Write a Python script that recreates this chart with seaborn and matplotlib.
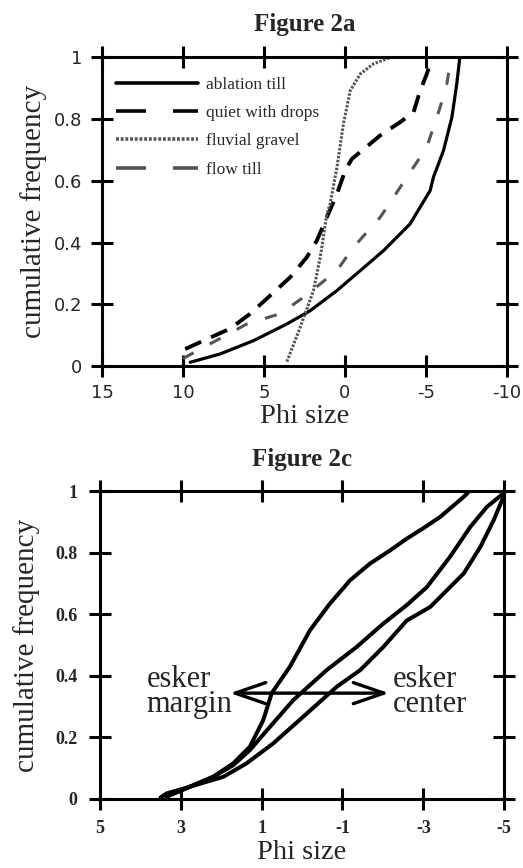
import numpy as np
import pandas as pd
import seaborn as sns
import matplotlib
matplotlib.use("Agg")
import matplotlib.pyplot as plt

# ---- Figure 2a data ----
abl_x = [9.55, 7.70, 5.64, 3.58, 2.14, 0.49, -1.56, -2.38, -4.03, -5.27, -5.47, -6.09, -6.61, -6.91, -7.08, -7.10]
abl_y = [0.013, 0.040, 0.083, 0.137, 0.18, 0.245, 0.337, 0.374, 0.461, 0.569, 0.612, 0.698, 0.806, 0.914, 0.99, 1.0]

quiet_x = [9.86, 8.73, 7.08, 5.85, 4.61, 3.38, 2.35, 1.73, 0.49, -0.02, -0.43, -1.56, -2.18, -3.41, -4.24, -4.65, -5.06, -5.37]
quiet_y = [0.056, 0.083, 0.122, 0.17, 0.229, 0.288, 0.353, 0.407, 0.558, 0.633, 0.671, 0.72, 0.747, 0.79, 0.822, 0.892, 0.946, 0.995]

fluv_x = [3.58, 2.76, 1.94, 1.52, 1.11, 0.91, 0.49, 0.09, -0.33, -0.95, -1.77, -2.59, -2.8]
fluv_y = [0.015, 0.126, 0.245, 0.353, 0.493, 0.526, 0.644, 0.784, 0.892, 0.946, 0.979, 0.995, 1.0]

flow_x = [10.0, 8.73, 6.05, 4.00, 2.56, 0.49, -0.53, -2.18, -3.83, -5.06, -5.88, -6.30, -6.50]
flow_y = [0.025, 0.061, 0.137, 0.17, 0.223, 0.31, 0.385, 0.482, 0.612, 0.709, 0.838, 0.914, 0.979]

labels_a = ["ablation till", "quiet with drops", "fluvial gravel", "flow till"]

# ---- Figure 2c data ----
c1_x = [3.50, 3.35, 2.77, 2.20, 1.70, 1.29, 0.96, 0.75, 0.30, -0.20, -0.69, -1.19, -1.68, -2.18, -2.59, -3.00, -3.42, -3.99, -4.1]
c1_y = [0.005, 0.018, 0.04, 0.072, 0.116, 0.17, 0.256, 0.344, 0.43, 0.549, 0.635, 0.711, 0.765, 0.808, 0.846, 0.88, 0.917, 0.981, 0.995]

c2_x = [3.35, 2.77, 2.20, 1.70, 1.29, 0.79, 0.22, -0.61, -1.35, -2.01, -2.59, -3.09, -3.66, -4.16, -4.57, -5.0]
c2_y = [0.008, 0.04, 0.072, 0.11, 0.159, 0.235, 0.321, 0.419, 0.494, 0.57, 0.63, 0.689, 0.787, 0.884, 0.949, 0.995]

c3_x = [3.35, 2.77, 1.95, 1.37, 0.71, -0.12, -0.86, -1.44, -2.01, -2.59, -3.17, -4.00, -4.41, -4.74, -4.98, -5.0]
c3_y = [0.008, 0.04, 0.072, 0.116, 0.181, 0.278, 0.365, 0.419, 0.494, 0.58, 0.624, 0.733, 0.819, 0.906, 0.981, 0.995]

xticks_a = [15, 10, 5, 0, -5, -10]
xticks_c = [5, 3, 1, -1, -3, -5]
yticks = [0, 0.2, 0.4, 0.6, 0.8, 1]
ytick_labels = ["0", "0.2", "0.4", "0.6", "0.8", "1"]

sns.set_theme(style="white")
plt.rcParams['font.family'] = ['Liberation Serif', 'DejaVu Serif']

fig = plt.figure(figsize=(5.23, 8.68), dpi=100)
ax1 = fig.add_axes([0.195, 0.578, 0.774, 0.356])
ax2 = fig.add_axes([0.191, 0.0795, 0.773, 0.3545])

def style_axes(ax, xticks, xlim, tickfont, xpad, ypad):
    ax.set_xlim(*xlim)
    ax.set_ylim(0, 1)
    ax.set_xticks(xticks)
    ax.set_yticks(yticks)
    ax.set_yticklabels(ytick_labels)
    ax.set_xticklabels([str(t) for t in xticks])
    for s in ax.spines.values():
        s.set_visible(True)
        s.set_color("black")
        s.set_linewidth(2.2)
    ax.tick_params(axis="both", which="major", direction="inout", length=16, width=2.2,
                   top=True, right=True, bottom=True, left=True, color="black",
                   labelsize=13)
    ax.tick_params(axis="x", pad=xpad)
    ax.tick_params(axis="y", pad=ypad)
    for lab in ax.get_xticklabels() + ax.get_yticklabels():
        lab.set_fontfamily(tickfont[0])
        lab.set_fontweight(tickfont[1])
    ax.grid(False)

# ---- Figure 2a ----
sns.lineplot(x=abl_x, y=abl_y, ax=ax1, sort=False, estimator=None, color="black",
             lw=2.3, label=labels_a[0])
sns.lineplot(x=quiet_x, y=quiet_y, ax=ax1, sort=False, estimator=None, color="black",
             lw=2.8, label=labels_a[1])
ax1.lines[-1].set_dashes([4.5, 2.8])
sns.lineplot(x=fluv_x, y=fluv_y, ax=ax1, sort=False, estimator=None, color="#555555",
             lw=2.2, label=labels_a[2])
ax1.lines[-1].set_dashes([0.8, 0.5])
sns.lineplot(x=flow_x, y=flow_y, ax=ax1, sort=False, estimator=None, color="#555555",
             lw=2.2, label=labels_a[3])
ax1.lines[-1].set_dashes([4, 6])
style_axes(ax1, xticks_a, (15, -10), ("DejaVu Sans", "normal"), 5, 6)
ax1.set_title("Figure 2a", fontsize=18, fontweight="bold", pad=19)
ax1.set_ylabel("cumulative frequency", fontsize=21, labelpad=5)
ax1.set_xlabel("Phi size", fontsize=20.5, labelpad=1)
leg = ax1.legend(loc="upper left", frameon=False, fontsize=12.5, handlelength=4.7,
                 handletextpad=0.5, labelspacing=0.7, borderaxespad=0.0,
                 bbox_to_anchor=(0.018, 0.96))
hl = leg.get_lines()
for h in hl:
    h.set_linewidth(2.6)
hl[1].set_dashes([8.3, 7.5])
hl[3].set_dashes([8.3, 7.5])
hl[2].set_dashes([0.8, 0.5])

# ---- Figure 2c ----
for cx, cy in [(c1_x, c1_y), (c2_x, c2_y), (c3_x, c3_y)]:
    sns.lineplot(x=cx, y=cy, ax=ax2, sort=False, estimator=None, color="black", lw=2.9)
style_axes(ax2, xticks_c, (5, -5), ("Liberation Serif", "bold"), 7, 8)
ax2.set_title("Figure 2c", fontsize=18, fontweight="bold", pad=18)
ax2.set_ylabel("cumulative frequency", fontsize=21, labelpad=11)
ax2.set_xlabel("Phi size", fontsize=20.5, labelpad=2)
ax2.annotate("", xy=(1.78, 0.344), xytext=(-2.15, 0.344),
             arrowprops=dict(arrowstyle="<->,head_length=1.1,head_width=0.38", lw=2.4,
                             color="black", mutation_scale=20, shrinkA=0, shrinkB=0))
ax2.text(3.84, 0.283, "esker\nmargin", fontsize=22, ha="left", va="baseline",
         linespacing=0.83)
ax2.text(-2.25, 0.283, "esker\ncenter", fontsize=22, ha="left", va="baseline",
         linespacing=0.83)

fig.savefig("out.png", dpi=100)
